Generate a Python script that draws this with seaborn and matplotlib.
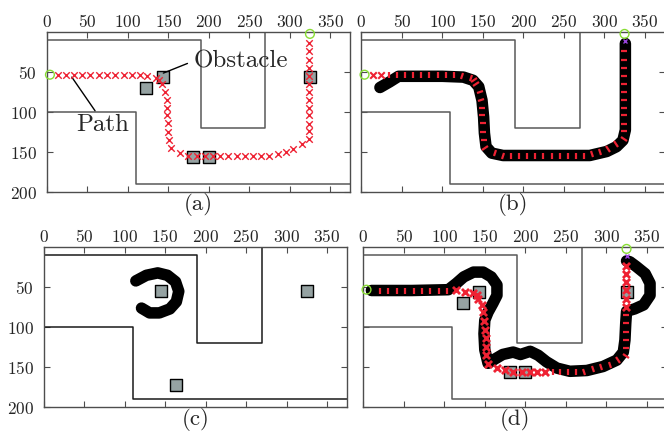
import numpy as np
import pandas as pd
import seaborn as sns
import matplotlib
matplotlib.use('Agg')
import matplotlib.pyplot as plt
from matplotlib.markers import MarkerStyle
from matplotlib.transforms import Affine2D
import warnings

warnings.filterwarnings("ignore")

# ## corridor walls (same map in all panels)
upper_wall_x = [0, 190, 190, 270, 270]
upper_wall_y = [10, 10, 120, 120, 0]
lower_wall_x = [0, 110, 110, 375]
lower_wall_y = [100, 100, 190, 190]

# obstacles
obs_x = [143, 123, 181, 200, 325]
obs_y = [56, 70, 156, 156, 56]
obs_c_x = [145, 325, 164]
obs_c_y = [55, 55, 172]

start_x, start_y = 4, 53
goal_x, goal_y = 325, 2
end_mark_x, end_mark_y = 325, 10.5

# reference path (a), (b)
path_x = [14, 24, 34, 44, 54, 64, 74, 84, 95, 105, 115, 124, 135, 139, 142, 146, 148, 149, 149,
          150, 150, 151, 153, 165, 175, 185, 195, 205, 214, 224, 235, 245, 255, 265, 275, 285,
          295, 304, 315, 324, 324, 324, 324, 324, 324, 324, 324, 324, 324, 324, 324, 324]
path_y = [53, 53, 53, 53, 53, 53, 53, 53, 53, 53, 53, 54, 57, 60, 65, 74, 84, 94, 103,
          113, 124, 134, 145, 151, 155, 155, 155, 155, 154, 154, 154, 154, 154, 154, 154, 152,
          150, 146, 140, 133, 123, 114, 103, 94, 85, 74, 64, 54, 44, 34, 23, 13]

# robot trajectory (b)
traj_b_x = [23, 35, 46, 70, 100, 126, 138, 145, 149, 151, 152, 154, 161, 175, 220, 282, 303,
            315, 323, 326, 326, 326, 326]
traj_b_y = [69, 62, 55, 55, 55, 56, 60, 68, 85, 106, 126, 143, 151, 154, 154, 154, 149,
            143, 135, 122, 85, 43, 14]

# robot trajectory (c)
traj_c_x = [114, 127, 141, 153, 163, 167, 164, 156, 143, 131, 121]
traj_c_y = [42, 35, 32, 35, 43, 55, 68, 77, 82, 82, 76]

# path (d): marks covered by the trajectory and uncovered crosses
path_d_x = [21, 31, 41, 52, 62, 72, 82, 93, 103, 115, 125, 136, 140, 142, 146, 148, 149, 150,
            151, 152, 152, 154, 165, 175, 185, 196, 206, 214, 224, 234, 243, 253, 263, 273,
            283, 294, 304, 314, 324, 324, 324, 324, 324, 324, 324, 324, 324, 324, 324, 324]
path_d_y = [54, 54, 54, 54, 54, 54, 54, 54, 54, 53, 56, 57, 60, 64, 72, 81, 92, 103,
            113, 124, 134, 146, 151, 153, 156, 156, 156, 156, 156, 156, 156, 156, 156, 156,
            152, 150, 147, 141, 136, 126, 116, 106, 95, 85, 74, 64, 53, 43, 33, 23]
covered_d = [1] * 9 + [0] * 20 + [1] * 15 + [0] * 6

traj_d_x = [10, 60, 105, 115, 124, 136, 148, 158, 165, 165, 160, 154, 150, 149, 150, 154, 162,
            172, 185, 194, 206, 216, 226, 239, 255, 276, 296, 313, 321, 323, 324, 325, 335,
            346, 354, 354, 348, 337, 329, 325]
traj_d_y = [54, 54, 53, 45, 37, 31, 31, 37, 47, 60, 70, 81, 91, 108, 128, 145, 140,
            134, 131, 134, 130, 135, 143, 151, 155, 154, 149, 141, 131, 116, 95, 80, 77,
            72, 60, 45, 33, 24, 18, 17]

red = '#ee2233'
green = '#88dd33'
purple = '#9944dd'
obs_color = '#95a2a2'
wall_color = '0.35'
fontsize = 12.5
traj_lw = 8.3

sns.set_style('ticks')
plt.rcParams['font.family'] = ['cmr10', 'DejaVu Serif']
plt.rcParams['mathtext.fontset'] = 'cm'
plt.rcParams['axes.formatter.use_mathtext'] = True

W, H = 664, 433
fig = plt.figure(figsize=(W / 100, H / 100), dpi=100)


def new_axes(left, top):
    return fig.add_axes([left / W, 1 - (top + 160) / H, 303.75 / W, 160 / H])


def setup(ax, label, show_y, wall_c=wall_color):
    sns.lineplot(x=upper_wall_x, y=upper_wall_y, sort=False, estimator=None, color=wall_c, lw=1.1, ax=ax)
    sns.lineplot(x=lower_wall_x, y=lower_wall_y, sort=False, estimator=None, color=wall_c, lw=1.1, ax=ax)
    ax.set_xlim(0, 375)
    ax.set_ylim(200, 0)
    ax.set_xticks(range(0, 351, 50))
    ax.set_yticks([50, 100, 150, 200])
    ax.tick_params(axis='both', which='both', direction='in', top=True, bottom=True, left=True,
                   right=True, labeltop=True, labelbottom=False, labelleft=show_y, labelright=False,
                   length=4, width=0.8, color='0.3', labelsize=fontsize, pad=2)
    ax.tick_params(axis='y', pad=7)
    for s in ax.spines.values():
        s.set_color('0.3')
        s.set_linewidth(1)
    ax.set_xlabel('')
    ax.set_ylabel('')
    ax.text(0.5, -0.005, label, transform=ax.transAxes, ha='center', va='top', fontsize=16.5)


def obstacles(ax, xs, ys):
    sns.scatterplot(x=xs, y=ys, marker='s', s=70, color=obs_color, edgecolor='k', linewidth=1,
                    ax=ax, zorder=3)


def start_goal(ax):
    ax.scatter([start_x, goal_x], [start_y, goal_y], s=40, facecolors='none', edgecolors=green,
               linewidths=1, zorder=6, clip_on=False)


def dash_marks(ax, xs, ys):
    xs = np.asarray(xs, float)
    ys = np.asarray(ys, float)
    dx = np.gradient(xs)
    dy = np.gradient(ys)
    for x, y, a, b in zip(xs, ys, dx, dy):
        ang = np.degrees(np.arctan2(-b, a))
        m = MarkerStyle('|', transform=Affine2D().rotate_deg(ang))
        ax.plot(x, y, marker=m, ms=5, mew=1.6, color=red, ls='none', zorder=7)


# (a) reference path
ax_a = new_axes(46.7, 32.3)
setup(ax_a, '(a)', True)
obstacles(ax_a, obs_x, obs_y)
sns.scatterplot(x=path_x, y=path_y, marker='x', s=22, color=red, linewidth=1, ax=ax_a, zorder=5)
start_goal(ax_a)
ax_a.annotate('Obstacle', xy=(144, 51), xytext=(181, 36), ha='left', va='center', fontsize=18,
              arrowprops=dict(arrowstyle='-', color='k', lw=1, shrinkA=2, shrinkB=0, relpos=(0, 0.5)))
ax_a.annotate('Path', xy=(31, 56), xytext=(69, 116), ha='center', va='center', fontsize=18,
              arrowprops=dict(arrowstyle='-', color='k', lw=1, shrinkA=0, shrinkB=0, relpos=(0.4, 1)))

# (b) path following without obstacles
ax_b = new_axes(361.3, 32.3)
setup(ax_b, '(b)', False)
sns.lineplot(x=traj_b_x, y=traj_b_y, sort=False, estimator=None, color='k', lw=traj_lw,
             solid_capstyle='round', solid_joinstyle='round', ax=ax_b, zorder=4)
sns.scatterplot(x=path_x[:2], y=path_y[:2], marker='x', s=22, color=red, linewidth=1.5, ax=ax_b, zorder=5)
dash_marks(ax_b, path_x[2:-1], path_y[2:-1])
ax_b.plot(end_mark_x, end_mark_y, marker='x', ms=3, mew=1, color=purple, zorder=7)
start_goal(ax_b)

# (c) single obstacle circling
ax_c = new_axes(43.5, 247.3)
setup(ax_c, '(c)', True, wall_c='0.1')
sns.lineplot(x=traj_c_x, y=traj_c_y, sort=False, estimator=None, color='k', lw=traj_lw,
             solid_capstyle='round', solid_joinstyle='round', ax=ax_c, zorder=4)
obstacles(ax_c, obs_c_x, obs_c_y)

# (d) path following with obstacles
ax_d = new_axes(363.3, 247.3)
setup(ax_d, '(d)', False)
obstacles(ax_d, obs_x, obs_y)
sns.lineplot(x=traj_d_x, y=traj_d_y, sort=False, estimator=None, color='k', lw=traj_lw,
             solid_capstyle='round', solid_joinstyle='round', ax=ax_d, zorder=4)
df_d = pd.DataFrame({'x': path_d_x, 'y': path_d_y, 'covered': covered_d})
open_d = df_d[df_d.covered == 0]
sns.scatterplot(data=open_d, x='x', y='y', marker='x', s=26, color=red, linewidth=2, ax=ax_d, zorder=5)
ax_d.set_xlabel('')
ax_d.set_ylabel('')
# covered marks drawn per continuous stretch so orientation follows the path
cov = df_d.covered.values
start = None
for i in range(len(cov) + 1):
    if i < len(cov) and cov[i] == 1 and start is None:
        start = i
    elif (i == len(cov) or cov[i] == 0) and start is not None:
        dash_marks(ax_d, df_d.x.values[start:i], df_d.y.values[start:i])
        start = None
ax_d.plot(end_mark_x, end_mark_y, marker='x', ms=3, mew=1, color=purple, zorder=7)
start_goal(ax_d)

plt.savefig('out.png', dpi=100)
